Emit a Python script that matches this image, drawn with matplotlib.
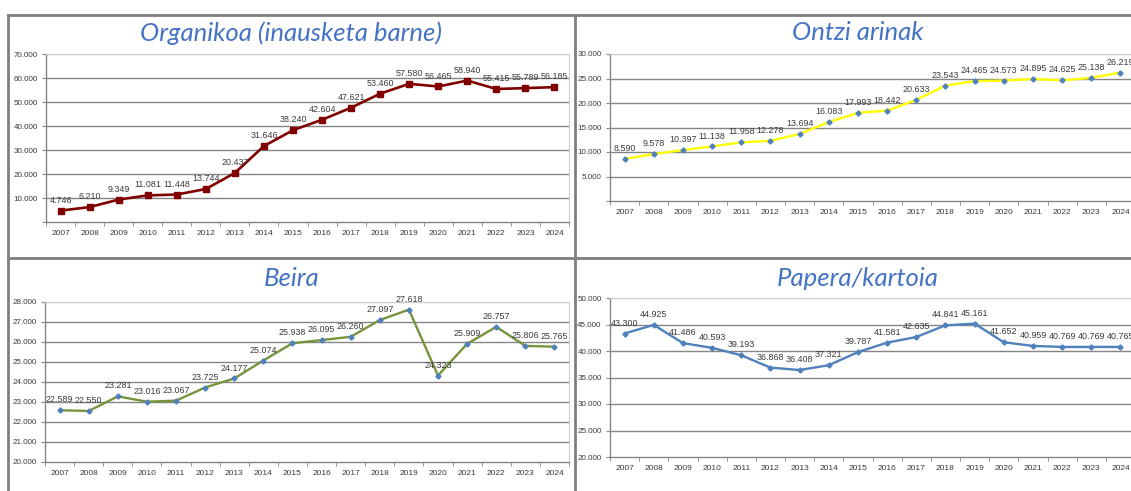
import matplotlib
matplotlib.use("Agg")
import matplotlib.pyplot as plt
from matplotlib.lines import Line2D

W, H = 1131, 491

years = [str(y) for y in range(2007, 2025)]

organikoa = [4746, 6210, 9349, 11081, 11448, 13744, 20437, 31646, 38240,
             42604, 47621, 53460, 57580, 56465, 58940, 55415, 55789, 56185]
ontzi = [8590, 9578, 10397, 11138, 11958, 12278, 13694, 16083, 17993,
         18442, 20633, 23543, 24465, 24573, 24895, 24625, 25138, 26219]
beira = [22589, 22550, 23281, 23016, 23067, 23725, 24177, 25074, 25938,
         26095, 26260, 27097, 27618, 24323, 25909, 26757, 25806, 25765]
papera = [43300, 44925, 41486, 40593, 39193, 36868, 36408, 37321, 39787,
          41581, 42635, 44841, 45161, 41652, 40959, 40769, 40769, 40765]

TITLE_COLOR = "#4472C4"
TEXT_COLOR = "#3a3a3a"
GRID_COLOR = "#858585"
BORDER_COLOR = "#7f7f7f"


def fmt(v):
    return f"{v:,}".replace(",", ".")


def px_axes(fig, x0, y0, x1, y1):
    return fig.add_axes([x0 / W, 1 - y1 / H, (x1 - x0) / W, (y1 - y0) / H])


def draw_panel(fig, box, title, title_xy, values, ylim, ystep, show_zero,
               line_color, lw, marker, msize, mcolor):
    ax = px_axes(fig, *box)
    x = list(range(len(years)))
    ax.plot(x, values, color=line_color, lw=lw, marker=marker, ms=msize,
            mfc=mcolor, mec=mcolor, zorder=3, clip_on=False)
    for xi, v in zip(x, values):
        ax.annotate(fmt(v), (xi, v), xytext=(0, 7.5), textcoords="offset points",
                    ha="center", va="center", fontsize=6.4, color=TEXT_COLOR,
                    family="Liberation Sans", zorder=4, annotation_clip=False)

    lo, hi = ylim
    ax.set_ylim(lo, hi)
    ax.set_xlim(-0.5, len(years) - 0.5)
    yt = list(range(lo, hi + 1, ystep))
    ax.set_yticks(yt)
    ax.set_yticklabels([fmt(t) if (t != 0 or show_zero) else "" for t in yt])
    for t in yt[1:]:
        ax.axhline(t, color=GRID_COLOR if t != hi else "#c8c8c8",
                   lw=1.0, zorder=1)

    ax.set_xticks(x)
    ax.set_xticklabels(years)
    ax.set_xticks([i - 0.5 for i in range(len(years) + 1)], minor=True)
    ax.tick_params(axis="x", which="major", length=0, pad=6,
                   labelsize=6.0, labelcolor=TEXT_COLOR)
    ax.tick_params(axis="x", which="minor", length=3, color=GRID_COLOR,
                   direction="out")
    ax.tick_params(axis="y", length=3, color=GRID_COLOR, pad=3,
                   labelsize=5.8, labelcolor=TEXT_COLOR)
    for lab in ax.get_xticklabels() + ax.get_yticklabels():
        lab.set_family("Liberation Sans")

    for side in ("left", "bottom"):
        ax.spines[side].set_color(GRID_COLOR)
        ax.spines[side].set_linewidth(1.0)
    for side in ("top", "right"):
        ax.spines[side].set_color("#d0d0d0")
        ax.spines[side].set_linewidth(0.8)
    ax.set_facecolor("none")

    fig.text(title_xy[0] / W, 1 - title_xy[1] / H, title, ha="center",
             va="center", fontsize=18.5, style="italic", family="Lato",
             color=TITLE_COLOR)
    return ax


fig = plt.figure(figsize=(W / 100, H / 100), dpi=100)

draw_panel(fig, (46, 54, 569, 222), "Organikoa (inausketa barne)", (291, 33),
           organikoa, (0, 70000), 10000, False,
           "#800000", 1.9, "s", 4.6, "#800000")
draw_panel(fig, (610, 54, 1135, 201), "Ontzi arinak", (858, 33),
           ontzi, (0, 30000), 5000, False,
           "#FFFF00", 1.7, "D", 2.6, "#4F81BD")
draw_panel(fig, (45, 302, 569, 462), "Beira", (292, 278),
           beira, (20000, 28000), 1000, True,
           "#77933C", 1.7, "D", 2.6, "#4F81BD")
draw_panel(fig, (610, 298, 1135, 457), "Papera/kartoia", (858, 278),
           papera, (20000, 50000), 5000, True,
           "#4F81BD", 1.7, "D", 2.6, "#4F81BD")

# table-like frame around the four panels
def frame_line(xs, ys):
    fig.add_artist(Line2D([x / W for x in xs], [1 - y / H for y in ys],
                          color=BORDER_COLOR, lw=2.0))

frame_line([8, W], [15, 15])
frame_line([8, W], [258, 258])
frame_line([8, 8], [15, H])
frame_line([575, 575], [15, H])

fig.savefig("out.png", dpi=100)
